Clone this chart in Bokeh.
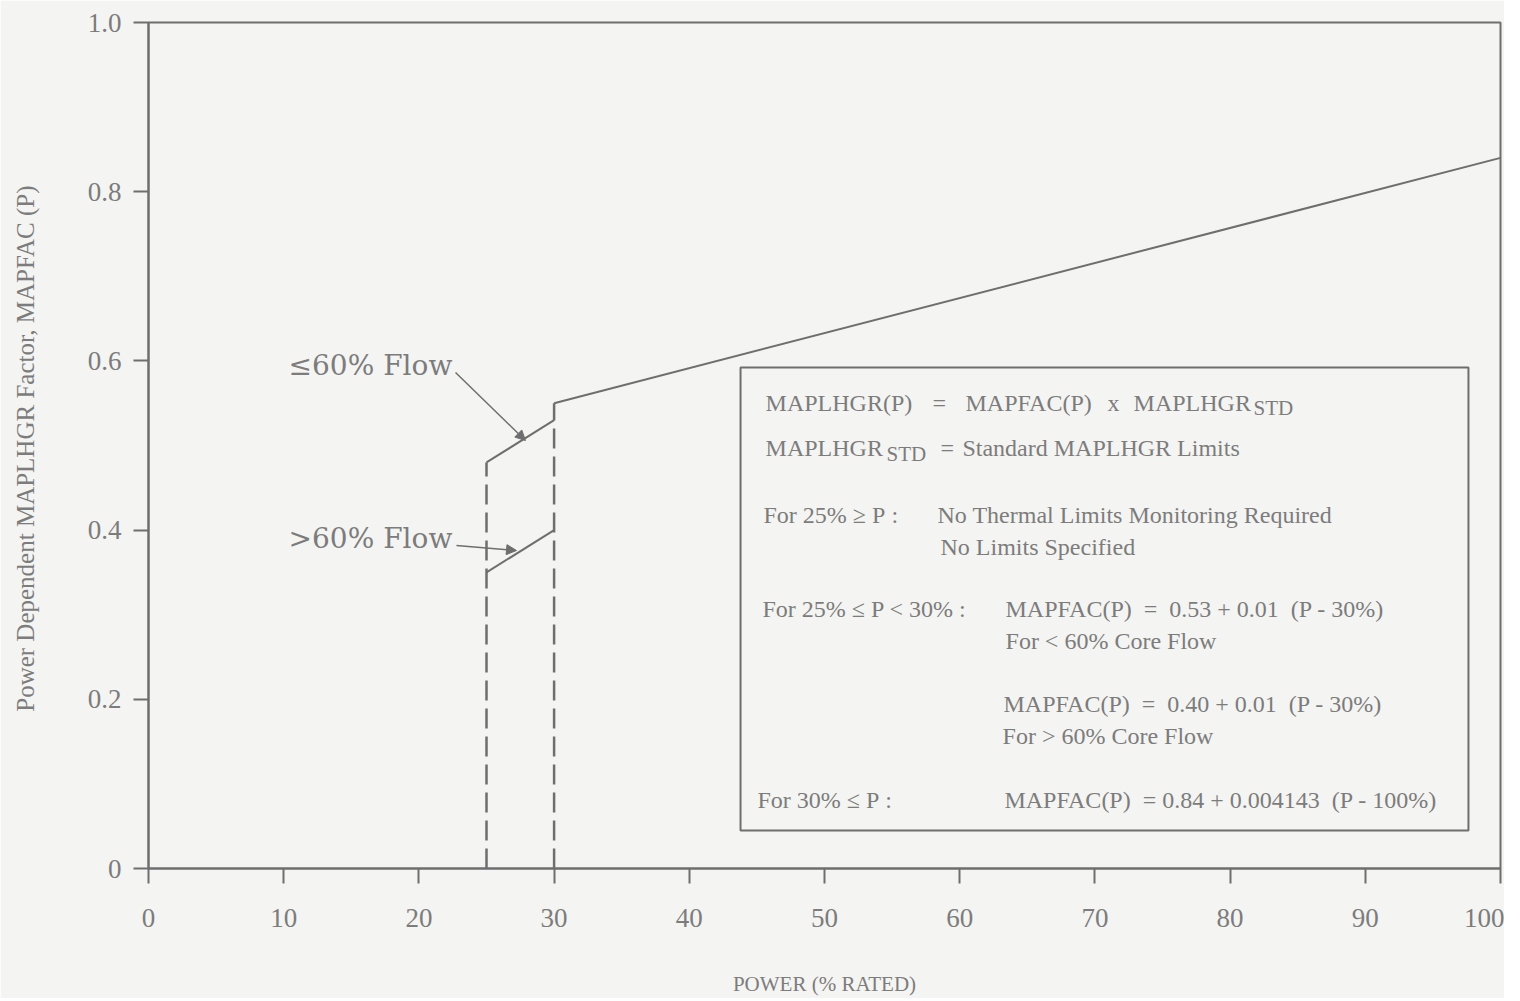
from bokeh.plotting import figure
from bokeh.models import Range1d, FixedTicker, Label, Arrow, NormalHead, BoxAnnotation
from bokeh.embed import file_html
from bokeh.resources import INLINE

# ---------------- data ----------------
low_flow_P = [25, 30]          # <=60% core flow
low_flow_MAPFAC = [0.48, 0.53]
high_flow_P = [25, 30]         # >60% core flow
high_flow_MAPFAC = [0.35, 0.40]
above30_P = [30, 100]          # 30% <= P
above30_MAPFAC = [0.55, 0.84]
boundary_P = [25, 30]          # dashed boundaries
boundary_base = [0.0, 0.0]
boundary_top = [0.48, 0.55]
x_ticks = [0, 10, 20, 30, 40, 50, 60, 70, 80, 90, 100]
y_ticks = [0, 0.2, 0.4, 0.6, 0.8, 1.0]
y_tick_labels = {0: "0", 0.2: "0.2", 0.4: "0.4", 0.6: "0.6", 0.8: "0.8", 1.0: "1.0"}

# ---------------- style ----------------
BG = "#f4f4f2"
INK = "#6e6e6e"
TXT = "#7c7c7c"
SERIF = "Liberation Serif"
NB = "\u00a0"

p = figure(width=1504, height=998, output_backend="svg", toolbar_location=None,
           x_range=Range1d(0, 100), y_range=Range1d(0, 1.0),
           min_border_left=148, min_border_right=4, min_border_top=22, min_border_bottom=130)
p.background_fill_color = BG
p.border_fill_color = BG
p.outline_line_color = INK
p.outline_line_width = 2
p.xgrid.visible = False
p.ygrid.visible = False

for ax in (p.xaxis[0], p.yaxis[0]):
    ax.axis_line_color = INK
    ax.axis_line_width = 2
    ax.major_tick_line_color = INK
    ax.major_tick_line_width = 2
    ax.major_tick_in = 0
    ax.major_tick_out = 15
    ax.minor_tick_line_color = None
    ax.major_label_text_font = SERIF
    ax.major_label_text_color = TXT
    ax.major_label_text_font_size = "27px"
    ax.axis_label_text_font = SERIF
    ax.axis_label_text_color = TXT
    ax.axis_label_text_font_style = "normal"

p.xaxis[0].ticker = FixedTicker(ticks=x_ticks)
p.xaxis[0].major_label_standoff = 25
p.xaxis[0].axis_label = "POWER (% RATED)"
p.xaxis[0].axis_label_text_font_size = "21px"
p.xaxis[0].axis_label_standoff = 42

p.yaxis[0].ticker = FixedTicker(ticks=y_ticks)
p.yaxis[0].major_label_overrides = y_tick_labels
p.yaxis[0].major_label_standoff = 12
p.yaxis[0].axis_label = "Power Dependent MAPLHGR Factor,  MAPFAC (P)"
p.yaxis[0].axis_label_text_font_size = "25px"
p.yaxis[0].axis_label_standoff = 46

# ---------------- curves ----------------
p.line(low_flow_P, low_flow_MAPFAC, line_color=INK, line_width=2)
p.line(high_flow_P, high_flow_MAPFAC, line_color=INK, line_width=2)
p.line(above30_P, above30_MAPFAC, line_color=INK, line_width=2)
p.segment(x0=boundary_P, y0=boundary_base, x1=boundary_P, y1=boundary_top,
          line_color=INK, line_width=2.5, line_dash="20 8")

# ---------------- flow callouts ----------------
for txt, x, y in [("\u226460% Flow", 10.36, 0.5946), (">60% Flow", 10.36, 0.3901)]:
    p.add_layout(Label(x=x, y=y, text=txt, text_font="DejaVu Serif", text_font_size="28px",
                       text_color=TXT, text_align="left", text_baseline="middle"))
for x0, y0, x1, y1 in [(22.71, 0.5863, 27.88, 0.5059), (22.78, 0.3818, 27.22, 0.3759)]:
    p.add_layout(Arrow(x_start=x0, y_start=y0, x_end=x1, y_end=y1,
                       line_color=INK, line_width=1.5,
                       end=NormalHead(size=10, fill_color=INK, line_color=INK)))

# ---------------- formula box ----------------
p.add_layout(BoxAnnotation(left=43.79, right=97.63, bottom=0.0449, top=0.5922,
                           fill_color=None, line_color=INK, line_width=2, line_alpha=1))

BOX_FS = "24px"
SUB_FS = "21px"
pieces = [
    ("MAPLHGR(P)", 45.64, 0.5508, BOX_FS),
    ("=", 57.99, 0.5508, BOX_FS),
    ("MAPFAC(P)", 60.43, 0.5508, BOX_FS),
    ("x", 70.93, 0.5508, BOX_FS),
    ("MAPLHGR", 72.86, 0.5508, BOX_FS),
    ("STD", 81.73, 0.5449, SUB_FS),
    ("MAPLHGR", 45.64, 0.4965, BOX_FS),
    ("STD", 54.59, 0.4905, SUB_FS),
    ("=", 58.58, 0.4965, BOX_FS),
    ("Standard MAPLHGR Limits", 60.20, 0.4965, BOX_FS),
    ("For 25% \u2265 P" + NB + ":", 45.49, 0.4184, BOX_FS),
    ("No Thermal Limits Monitoring Required", 58.36, 0.4184, BOX_FS),
    ("No Limits Specified", 58.58, 0.3806, BOX_FS),
    ("For 25% \u2264 P < 30%" + NB + ":", 45.41, 0.3073, BOX_FS),
    ("MAPFAC(P)" + NB * 2 + "=" + NB * 2 + "0.53 + 0.01" + NB * 2 + "(P - 30%)", 63.39, 0.3073, BOX_FS),
    ("For < 60% Core Flow", 63.39, 0.2695, BOX_FS),
    ("MAPFAC(P)" + NB * 2 + "=" + NB * 2 + "0.40 + 0.01" + NB * 2 + "(P - 30%)", 63.24, 0.1939, BOX_FS),
    ("For > 60% Core Flow", 63.17, 0.1572, BOX_FS),
    ("For 30% \u2264 P" + NB + ":", 45.04, 0.0804, BOX_FS),
    ("MAPFAC(P)" + NB * 2 + "= 0.84 + 0.004143" + NB * 2 + "(P - 100%)", 63.31, 0.0804, BOX_FS),
]
for txt, x, y, fs in pieces:
    p.add_layout(Label(x=x, y=y, text=txt, text_font=SERIF, text_font_size=fs,
                       text_color=TXT, text_align="left", text_baseline="middle"))

open("out.html", "w").write(file_html(p, INLINE))
